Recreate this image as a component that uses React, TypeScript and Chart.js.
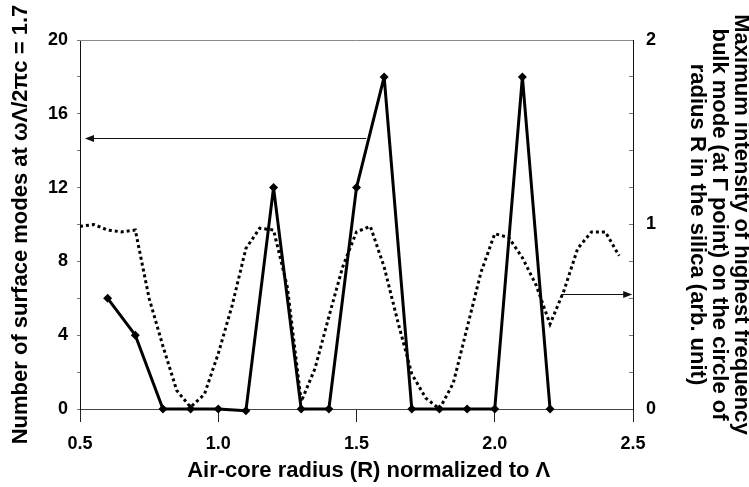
import { useEffect, useRef } from 'react';
import { Chart, registerables } from 'chart.js';

Chart.register(...registerables);

// Solid series: number of surface modes (left axis)
const modeR = [0.6, 0.7, 0.8, 0.9, 1.0, 1.1, 1.2, 1.3, 1.4, 1.5, 1.6, 1.7, 1.8, 1.9, 2.0, 2.1, 2.2];
const modeCount = [6, 4, 0, 0, 0, -0.1, 12, 0, 0, 12, 18, 0, 0, 0, 0, 18, 0];

// Dotted series: max intensity of bulk mode (right axis)
const intensityR = [
  0.5, 0.55, 0.6, 0.65, 0.7, 0.75, 0.8, 0.85, 0.9, 0.95,
  1.0, 1.05, 1.1, 1.15, 1.2, 1.25, 1.3, 1.35, 1.4, 1.45,
  1.5, 1.55, 1.6, 1.65, 1.7, 1.75, 1.8, 1.85, 1.9, 1.95,
  2.0, 2.05, 2.1, 2.15, 2.2, 2.25, 2.3, 2.35, 2.4, 2.45,
];
const intensity = [
  0.99, 1.0, 0.97, 0.96, 0.97, 0.6, 0.34, 0.1, 0.01, 0.08,
  0.3, 0.56, 0.87, 0.98, 0.97, 0.66, 0.04, 0.22, 0.5, 0.77,
  0.96, 0.99, 0.77, 0.47, 0.19, 0.06, 0.0, 0.14, 0.44, 0.74,
  0.95, 0.93, 0.82, 0.67, 0.46, 0.64, 0.87, 0.96, 0.96, 0.83,
];

const xTickValues = [0.5, 1.0, 1.5, 2.0, 2.5];
const leftTickLabels = [0, 4, 8, 12, 16, 20];
const rightTickLabels = [0, 1, 2];

// Annotation arrows: [from R, to R, axis value]
const leftArrow = [1.535, 0.518, 14.7];
const rightArrow = [2.24, 2.497, 0.625];

const FONT = "'Liberation Sans', Arial, Helvetica, sans-serif";

const decorPlugin = {
  id: 'decor',
  afterDatasetsDraw(chart: any) {
    const { ctx, chartArea, scales } = chart;
    ctx.save();
    ctx.strokeStyle = '#8a8a8a';
    ctx.lineWidth = 1;
    ctx.beginPath();
    ctx.moveTo(chartArea.left, chartArea.top + 0.5);
    ctx.lineTo(chartArea.right, chartArea.top + 0.5);
    ctx.stroke();

    const drawArrow = (x1: number, x2: number, y: number) => {
      const dir = x2 > x1 ? 1 : -1;
      ctx.strokeStyle = '#111';
      ctx.fillStyle = '#111';
      ctx.lineWidth = 1.2;
      ctx.beginPath();
      ctx.moveTo(x1, y);
      ctx.lineTo(x2 - dir * 7, y);
      ctx.stroke();
      ctx.beginPath();
      ctx.moveTo(x2, y);
      ctx.lineTo(x2 - dir * 9, y - 3.5);
      ctx.lineTo(x2 - dir * 9, y + 3.5);
      ctx.closePath();
      ctx.fill();
    };
    const x = scales.x;
    drawArrow(x.getPixelForValue(leftArrow[0]), x.getPixelForValue(leftArrow[1]), Math.round(scales.y.getPixelForValue(leftArrow[2])) + 0.5);
    drawArrow(x.getPixelForValue(rightArrow[0]), x.getPixelForValue(rightArrow[1]), Math.round(scales.y2.getPixelForValue(rightArrow[2])) + 0.5);
    ctx.restore();
  },
};

export default function App() {
  const ref = useRef<HTMLCanvasElement | null>(null);

  useEffect(() => {
    document.body.style.margin = '0';
    const canvas = ref.current;
    if (!canvas) return;
    const chart = new Chart(canvas, {
      type: 'line',
      data: {
        datasets: [
          {
            label: 'Number of surface modes',
            data: modeR.map((r, i) => ({ x: r, y: modeCount[i] })),
            yAxisID: 'y',
            borderColor: '#000',
            backgroundColor: '#000',
            borderWidth: 3,
            borderJoinStyle: 'round',
            pointStyle: 'rectRot',
            pointRadius: 4.5,
            pointBorderWidth: 0,
            tension: 0,
            clip: false as any,
            order: 0,
          },
          {
            label: 'Maximum intensity',
            data: intensityR.map((r, i) => ({ x: r, y: intensity[i] })),
            yAxisID: 'y2',
            borderColor: '#000',
            borderWidth: 3,
            borderDash: [3, 3],
            borderCapStyle: 'butt',
            pointRadius: 0,
            tension: 0,
            order: 1,
          },
        ],
      },
      options: {
        animation: false,
        responsive: false,
        events: [],
        layout: { padding: { top: 40, left: 0, right: 0, bottom: 0 } },
        plugins: {
          legend: { display: false },
          tooltip: { enabled: false },
        },
        scales: {
          x: {
            type: 'linear',
            min: 0.5,
            max: 2.5,
            afterFit: (s: any) => { s.height = 78; },
            afterBuildTicks: (s: any) => { s.ticks = xTickValues.map((v) => ({ value: v })); },
            ticks: {
              autoSkip: false,
              padding: 11,
              color: '#000',
              font: { family: FONT, size: 18, weight: 'bold' },
              callback: (v: any) => Number(v).toFixed(1),
            },
            grid: { drawOnChartArea: false, drawTicks: true, tickLength: 13, color: '#222', tickWidth: 1 },
            border: { display: true, color: '#444', width: 1 },
            title: {
              display: true,
              text: '    Air-core radius (R) normalized to Λ',
              color: '#000',
              font: { family: FONT, size: 22, weight: 'bold', lineHeight: '22px' },
              padding: { top: 0, bottom: 5.5 },
            },
          },
          y: {
            type: 'linear',
            position: 'left',
            min: 0,
            max: 20,
            afterFit: (s: any) => { s.width = 80; },
            ticks: {
              stepSize: 2,
              autoSkip: false,
              padding: 9,
              color: '#000',
              font: { family: FONT, size: 18, weight: 'bold' },
              callback: (v: any) => (leftTickLabels.includes(Number(v)) ? String(v) : ''),
            },
            grid: { drawOnChartArea: false, drawTicks: true, tickLength: 3, color: '#777' },
            border: { display: true, color: '#111', width: 1 },
            title: {
              display: true,
              text: 'Number of surface modes at ωΛ/2πc = 1.7',
              color: '#000',
              font: { family: FONT, size: 22, weight: 'bold', lineHeight: '22px' },
              padding: { top: 10, bottom: 0 },
            },
          },
          y2: {
            type: 'linear',
            position: 'right',
            min: 0,
            max: 2,
            afterFit: (s: any) => { s.width = 116; },
            ticks: {
              stepSize: 0.2,
              autoSkip: false,
              padding: 17,
              color: '#000',
              font: { family: FONT, size: 18, weight: 'bold' },
              callback: (v: any) => {
                const t = rightTickLabels.find((r) => Math.abs(r - Number(v)) < 1e-6);
                return t === undefined ? '' : String(t);
              },
            },
            grid: { drawOnChartArea: false, drawTicks: true, tickLength: -4, color: '#777' },
            border: { display: true, color: '#111', width: 1 },
            title: {
              display: true,
              text: [
                'Maximum intensity of highest frequency',
                'bulk mode (at Γ point) on the circle of',
                'radius R in the silica (arb. unit)',
              ],
              color: '#000',
              font: { family: FONT, size: 22, weight: 'bold', lineHeight: '22px' },
              padding: { top: -3, bottom: 0 },
            },
          },
        },
      } as any,
      plugins: [decorPlugin],
    });
    return () => chart.destroy();
  }, []);

  return (
    <div style={{ width: 749, height: 487 }}>
      <canvas ref={ref} width={749} height={487} style={{ display: 'block' }} />
    </div>
  );
}
